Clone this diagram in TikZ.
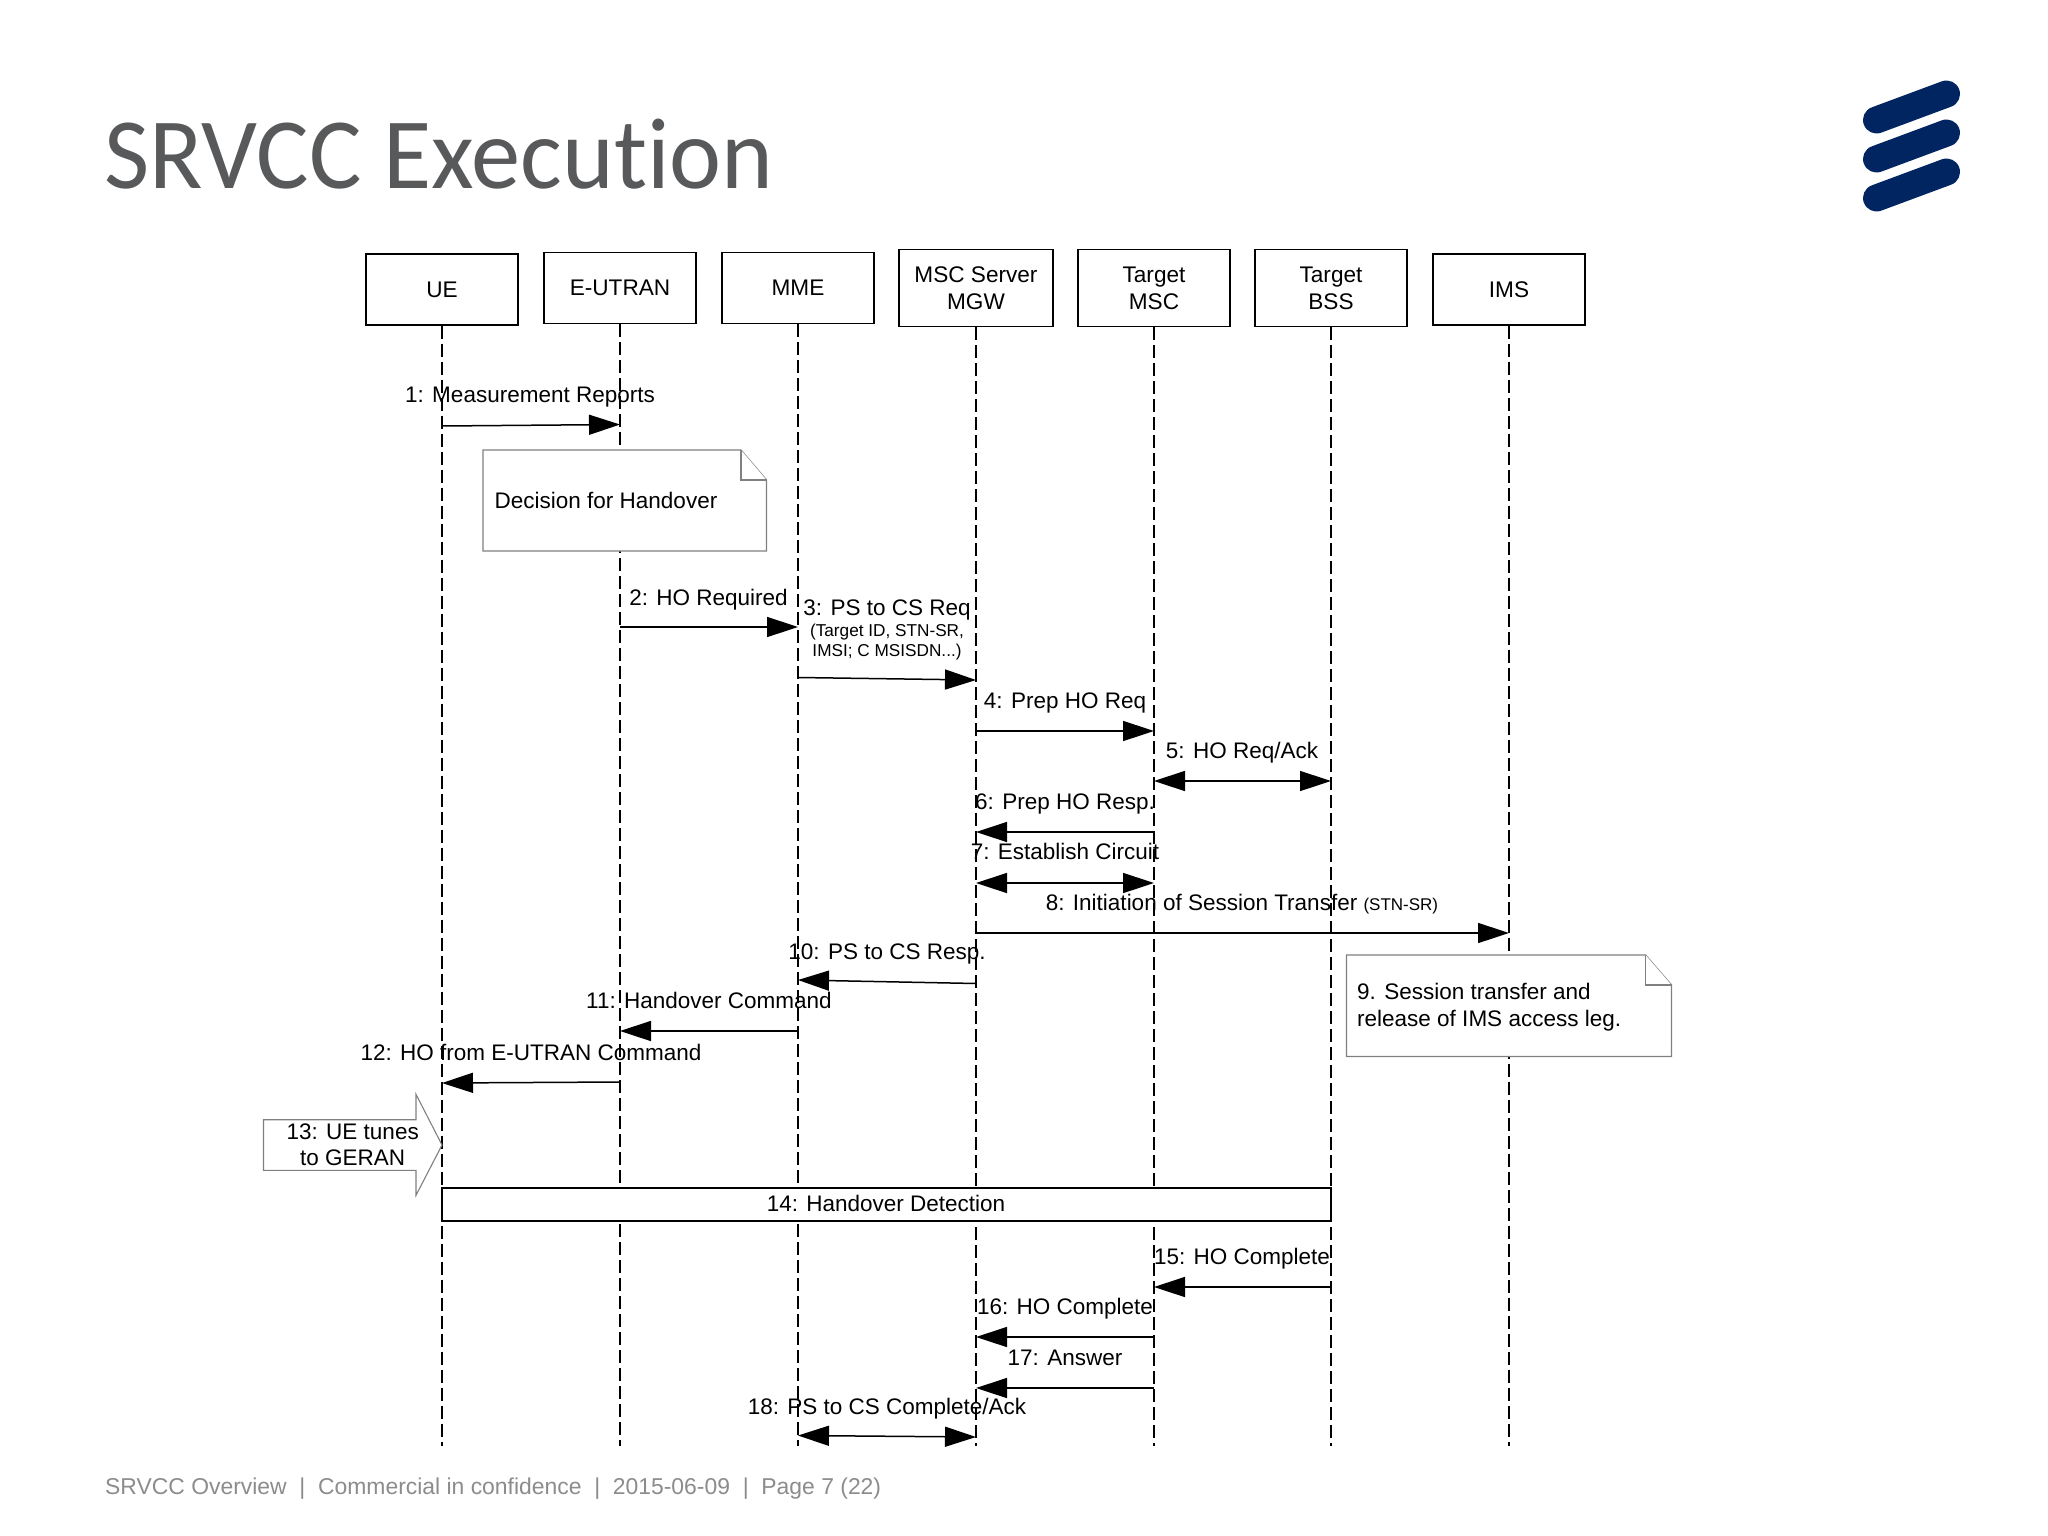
\documentclass[tikz,border=0pt]{standalone}
\usepackage{fontspec}
\setmainfont{Liberation Sans}
\newfontfamily\titlefont{Carlito}
\usetikzlibrary{arrows.meta}
\definecolor{titlegray}{HTML}{58595B}
\definecolor{footgray}{HTML}{8C8C8C}
\definecolor{notegray}{HTML}{808080}
\definecolor{lognavy}{HTML}{002561}
\tikzset{
  x=1pt,y=-1pt,
  actor/.style={draw=black,line width=1.4pt,fill=white,inner sep=0,align=center,font=\fontsize{22.6}{27}\selectfont},
  lifeline/.style={draw=black,line width=1.4pt,dash pattern=on 13pt off 5pt},
  msg/.style={draw=black,line width=1.5pt,-{Triangle[length=31pt,width=20pt]}},
  dmsg/.style={draw=black,line width=1.5pt,{Triangle[length=31pt,width=20pt]}-{Triangle[length=31pt,width=20pt]}},
  lbl/.style={inner sep=0,text height=17pt,text depth=1pt,font=\fontsize{22.5}{27}\selectfont},
  small/.style={inner sep=0,text height=11pt,text depth=1pt,font=\fontsize{17.2}{20}\selectfont},
  note/.style={draw=notegray,line width=1.3pt,fill=white},
  logobar/.style={draw=lognavy,line width=27pt,line cap=round},
}
\begin{document}
\begin{tikzpicture}
\useasboundingbox (0,0) rectangle (2048,1536);
\fill[white] (0,0) rectangle (2048,1536);
\node[anchor=base west,inner sep=0,text=titlegray,font=\titlefont\fontsize{101}{110}\selectfont] (title) at (104,188) {\scalebox{.975}[1]{SRVCC Execut\kern0pt ion}};
\draw[logobar] (1876.5,120) -- (1946.5,94);
\draw[logobar] (1876.5,159) -- (1946.5,133);
\draw[logobar] (1876.5,198) -- (1946.5,172);
% lifeline ends
\foreach \n/\x in {ue/442,en/620,mme/798,msc/976,tmsc/1154,tbss/1331,ims/1509}{\coordinate (\n end) at (\x,1446);}
% actors
\node[actor,minimum width=152pt,minimum height=71pt] (ue) at (442,289.5) {UE};
\node[actor,minimum width=152pt,minimum height=71pt] (en) at (620,288) {E-UTRAN};
\node[actor,minimum width=152pt,minimum height=71pt] (mme) at (798,288) {MME};
\node[actor,minimum width=154pt,minimum height=77pt] (msc) at (976,288) {MSC Server\\MGW};
\node[actor,minimum width=152pt,minimum height=77pt] (tmsc) at (1154,288) {Target\\MSC};
\node[actor,minimum width=152pt,minimum height=77pt] (tbss) at (1331,288) {Target\\BSS};
\node[actor,minimum width=152pt,minimum height=71pt] (ims) at (1509,289.5) {IMS};
\foreach \n in {ue,en,mme,msc,tmsc,tbss,ims}{\draw[lifeline] (\n.south) -- (\n end);}
% notes
\draw[note] (483,450) -- (741,450) -- (766.5,480) -- (766.5,551) -- (483,551) -- cycle;
\draw[note,fill=white] (741,450) -- (741,480) -- (766.5,480);
\node[lbl,anchor=west] (n1) at (494.5,500) {Decision for Handover};
\draw[note] (1346.5,955) -- (1645.5,955) -- (1671.5,985) -- (1671.5,1056.5) -- (1346.5,1056.5) -- cycle;
\draw[note] (1645.5,955) -- (1645.5,985) -- (1671.5,985);
\node[lbl,anchor=west] (n2a) at (1357,991) {9. Session transfer and};
\node[lbl,anchor=west] (n2b) at (1357,1018) {release of IMS access leg.};
% message end points
\coordinate (m1a) at (442,426); \coordinate (m1b) at (620,424.5);
\coordinate (m2a) at (620,627); \coordinate (m2b) at (798,627);
\coordinate (m3a) at (798,677.5); \coordinate (m3b) at (976,680);
\coordinate (m4a) at (976,731); \coordinate (m4b) at (1154,731);
\coordinate (m5a) at (1154,781); \coordinate (m5b) at (1331,781);
\coordinate (m6a) at (1154,832); \coordinate (m6b) at (976,832);
\coordinate (m7a) at (976,883); \coordinate (m7b) at (1154,883);
\coordinate (m8a) at (976,933); \coordinate (m8b) at (1509,933);
\coordinate (m10a) at (976,983.5); \coordinate (m10b) at (798,980);
\coordinate (m11a) at (798,1031); \coordinate (m11b) at (620,1031);
\coordinate (m12a) at (620,1082); \coordinate (m12b) at (442,1083);
\coordinate (m15a) at (1331,1287); \coordinate (m15b) at (1154,1287);
\coordinate (m16a) at (1154,1337); \coordinate (m16b) at (976,1337);
\coordinate (m17a) at (1154,1388); \coordinate (m17b) at (976,1388);
\coordinate (m18a) at (798,1435.5); \coordinate (m18b) at (976,1437);
\foreach \m in {1,2,3,4,6,8,10,11,12,15,16,17}{\draw[msg] (m\m a) -- (m\m b);}
\foreach \m in {5,7,18}{\draw[dmsg] (m\m a) -- (m\m b);}
% labels
\node[lbl] (l1) at (530,394) {1: Measurement Reports};
\node[lbl] (l2) at (708.5,597) {2: HO Required};
\node[lbl] (l3) at (887,607) {3: PS to CS Req};
\node[small] (l3a) at (887,631.5) {(Target ID, STN-SR,};
\node[small] (l3b) at (887,651) {IMSI; C MSISDN...)};
\node[lbl] (l4) at (1065,700) {4: Prep HO Req};
\node[lbl] (l5) at (1242,750) {5: HO Req/Ack};
\node[lbl] (l6) at (1065,801) {6: Prep HO Resp.};
\node[lbl] (l7) at (1065,851.5) {7: Establish Circuit};
\node[lbl] (l8) at (1242,902.5) {8: Initiation of Session Transfer {\fontsize{17}{20}\selectfont (STN-SR)}};
\node[lbl] (l10) at (887,951.5) {10: PS to CS Resp.};
\node[lbl] (l11) at (709,1000.5) {11: Handover Command};
\node[lbl] (l12) at (531,1052) {12: HO from E-UTRAN Command};
\node[lbl] (l15) at (1242,1256) {15: HO Complete};
\node[lbl] (l16) at (1065,1306) {16: HO Complete};
\node[lbl] (l17) at (1065,1357) {17: Answer};
\node[lbl] (l18) at (887,1406) {18: PS to CS Complete/Ack};
% block arrow
\draw[note,line width=1.1pt] (263.5,1119.7) -- (416,1119.7) -- (416,1094.3) -- (442,1145) -- (416,1195.3) -- (416,1170.3) -- (263.5,1170.3) -- cycle;
\node[lbl] (a13a) at (352.7,1131) {13: UE tunes};
\node[lbl] (a13b) at (352.7,1157.7) {to GERAN};
% bar
\draw[draw=black,line width=2pt,fill=white] (442,1188) rectangle (1331,1221);
\node[lbl] (b14) at (886,1203.5) {14: Handover Detection};
\node[anchor=base west,inner sep=0,text=footgray,font=\fontsize{22.9}{27}\selectfont] (foot) at (105,1494) {SRVCC Overview\ \ |\ \ Commercial in confidence\ \ |\ \ 2015-06-09\ \ |\ \ Page 7 (22)};
\end{tikzpicture}
\end{document}
